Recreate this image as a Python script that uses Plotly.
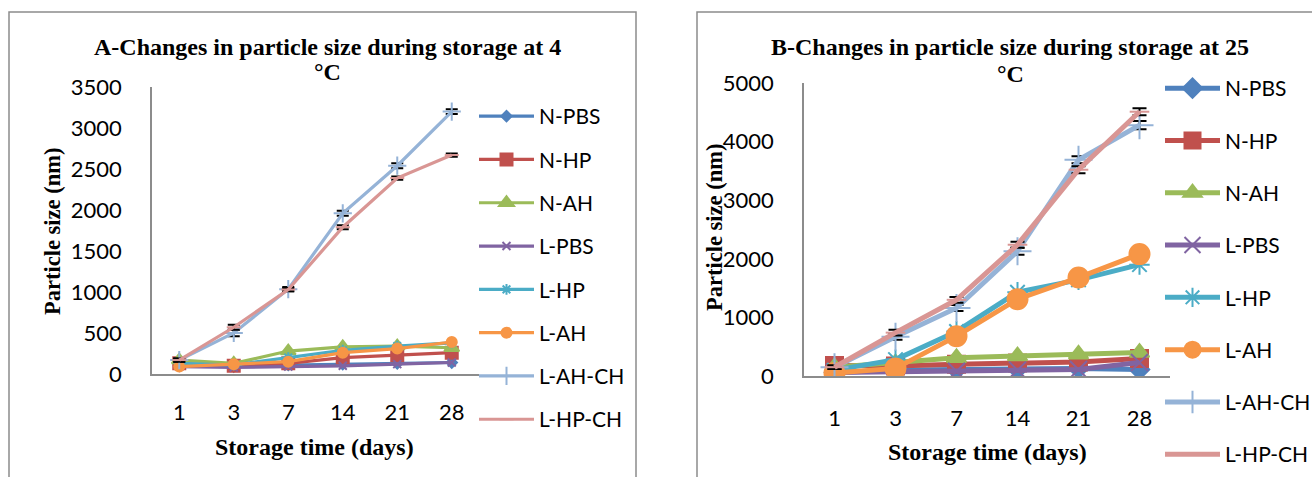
import plotly.graph_objects as go

W, H = 1312, 477

days = ["1", "3", "7", "14", "21", "28"]
series_names = ["N-PBS", "N-HP", "N-AH", "L-PBS", "L-HP", "L-AH", "L-AH-CH", "L-HP-CH"]

# A: 4 °C
a_npbs = [100, 90, 110, 120, 130, 140]
a_nhp = [130, 100, 130, 200, 230, 260]
a_nah = [170, 130, 280, 330, 340, 320]
a_lpbs = [90, 80, 90, 100, 120, 140]
a_lhp = [130, 110, 200, 290, 340, 380]
a_lah = [90, 120, 150, 260, 310, 390]
a_lahch = [170, 500, 1035, 1960, 2540, 3200]
a_lhpch = [170, 570, 1030, 1790, 2390, 2670]
a_err_lahch = [20, 40, 25, 30, 30, 30]
a_err_lhpch = [20, 30, 20, 25, 20, 20]

# B: 25 °C
b_npbs = [60, 100, 110, 120, 130, 110]
b_nhp = [180, 170, 200, 220, 240, 300]
b_nah = [150, 220, 310, 340, 370, 400]
b_lpbs = [60, 70, 80, 100, 110, 230]
b_lhp = [100, 280, 760, 1430, 1640, 1900]
b_lah = [50, 130, 680, 1310, 1680, 2080]
b_lahch = [150, 670, 1160, 2130, 3690, 4280]
b_lhpch = [150, 740, 1300, 2240, 3520, 4510]
b_err_lahch = [30, 50, 50, 60, 60, 70]
b_err_lhpch = [30, 50, 50, 50, 60, 60]

colors = ["#4F81BD", "#C0504D", "#9BBB59", "#8064A2", "#4BACC6", "#F79646", "#95B3D7", "#D99694"]
symbols = ["diamond", "square", "triangle-up", "x-thin-open", "asterisk-open", "circle", "cross-thin-open", "line-ew-open"]
sizes_a = [8, 12, 13, 8, 9, 10, 13, 10]
sizes_b = [15, 17, 17, 17, 17, 20, 20, 14]

data_a = [a_npbs, a_nhp, a_nah, a_lpbs, a_lhp, a_lah, a_lahch, a_lhpch]
data_b = [b_npbs, b_nhp, b_nah, b_lpbs, b_lhp, b_lah, b_lahch, b_lhpch]
err_a = {6: a_err_lahch, 7: a_err_lhpch}
err_b = {6: b_err_lahch, 7: b_err_lhpch}

fig = go.Figure()

for i, name in enumerate(series_names):
    ey = None
    if i in err_a:
        ey = dict(type="data", array=err_a[i], color="black", thickness=2, width=6)
    fig.add_trace(go.Scatter(
        x=days, y=data_a[i], name=name, mode="lines+markers",
        line=dict(color=colors[i], width=3.2),
        marker=dict(symbol=symbols[i], size=sizes_a[i], color=colors[i],
                    line=dict(color=colors[i], width=2)),
        error_y=ey, xaxis="x", yaxis="y", legend="legend",
        legendgroup="a" + name,
    ))

for i, name in enumerate(series_names):
    ey = None
    if i in err_b:
        ey = dict(type="data", array=err_b[i], color="black", thickness=2, width=7)
    fig.add_trace(go.Scatter(
        x=days, y=data_b[i], name=name, mode="lines+markers",
        line=dict(color=colors[i], width=5),
        marker=dict(symbol=symbols[i], size=sizes_b[i], color=colors[i],
                    line=dict(color=colors[i], width=2)),
        error_y=ey, xaxis="x2", yaxis="y2", legend="legend2",
        legendgroup="b" + name,
    ))

def px(x):
    return x / W

def py(y):
    return 1 - y / H

tick_font = dict(family="Lato, Carlito, Calibri, sans-serif", size=22, color="black")
axis_common = dict(showgrid=False, zeroline=False, showline=True, linecolor="#8C8C8C",
                   linewidth=1.5, ticks="", tickfont=tick_font, automargin=False)

fig.update_layout(
    width=W, height=H,
    margin=dict(l=0, r=0, t=0, b=0, autoexpand=False),
    paper_bgcolor="white", plot_bgcolor="white",
    showlegend=True,
    xaxis=dict(domain=[px(152), px(479)], type="category", range=[-0.5, 5.5],
               anchor="y", ticklabelstandoff=18, **axis_common),
    yaxis=dict(domain=[py(374), py(87)], range=[0, 3500], dtick=500, anchor="x",
               ticklabelstandoff=24, **axis_common),
    xaxis2=dict(domain=[px(804), px(1170)], type="category", range=[-0.5, 5.5],
                anchor="y2", ticklabelstandoff=22, **axis_common),
    yaxis2=dict(domain=[py(376), py(83)], range=[0, 5000], dtick=1000, anchor="x2",
                ticklabelstandoff=24, **axis_common),
    legend=dict(x=px(474), y=py(96), xanchor="left", yanchor="top",
                font=dict(family="Lato, sans-serif", size=21, color="black"),
                itemwidth=55, tracegroupgap=13, bgcolor="rgba(0,0,0,0)"),
    legend2=dict(x=px(1160), y=py(68), xanchor="left", yanchor="top",
                 font=dict(family="Lato, sans-serif", size=21, color="black"),
                 itemwidth=55, tracegroupgap=22, bgcolor="rgba(0,0,0,0)"),
)

title_font = dict(family="Liberation Serif, Times New Roman, serif", size=24, color="black")
ytitle_font = dict(family="Liberation Serif, Times New Roman, serif", size=22.5, color="black")
ann = [
    dict(text="<b>A-Changes in particle size during storage at 4</b>", x=px(327), y=py(47), font=title_font),
    dict(text="<b>°C</b>", x=px(327), y=py(72), font=title_font),
    dict(text="<b>B-Changes in particle size during storage at 25</b>", x=px(1010), y=py(47), font=title_font),
    dict(text="<b>°C</b>", x=px(1010), y=py(74), font=title_font),
    dict(text="<b>Storage time (days)</b>", x=px(314), y=py(447), font=title_font),
    dict(text="<b>Storage time (days)</b>", x=px(987), y=py(452), font=title_font),
    dict(text="<b>Particle size (nm)</b>", x=px(52), y=py(232), textangle=-90, font=ytitle_font),
    dict(text="<b>Particle size (nm)</b>", x=px(714), y=py(228), textangle=-90, font=ytitle_font),
]
for a in ann:
    fig.add_annotation(xref="paper", yref="paper", showarrow=False,
                       xanchor="center", yanchor="middle", **a)

fig.add_shape(type="rect", xref="paper", yref="paper",
              x0=px(9), x1=px(636), y0=py(490), y1=py(12),
              line=dict(color="#8C8C8C", width=1.5), fillcolor="rgba(0,0,0,0)", layer="below")
fig.add_shape(type="rect", xref="paper", yref="paper",
              x0=px(697), x1=px(1330), y0=py(490), y1=py(12),
              line=dict(color="#8C8C8C", width=1.5), fillcolor="rgba(0,0,0,0)", layer="below")

fig.write_html("out.html")
